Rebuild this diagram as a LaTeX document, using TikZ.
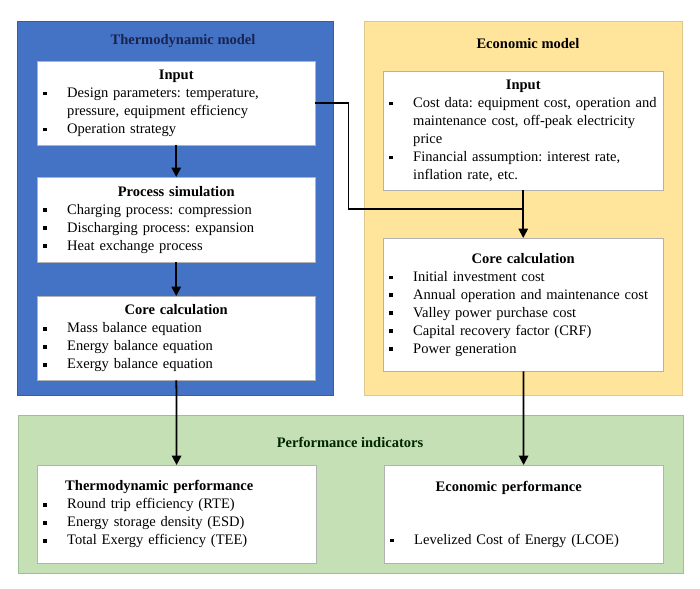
\documentclass[tikz,border=0pt]{standalone}
\usepackage{fontspec}
\setmainfont{Liberation Serif}
\usetikzlibrary{arrows.meta,positioning}
\definecolor{thermoblue}{RGB}{68,114,196}
\definecolor{thermoedge}{RGB}{52,92,170}
\definecolor{econyellow}{RGB}{255,229,155}
\definecolor{econedge}{RGB}{222,200,140}
\definecolor{perfgreen}{RGB}{198,224,181}
\definecolor{perfedge}{RGB}{160,190,150}
\definecolor{navy}{RGB}{25,35,80}
\newcommand{\px}{0.03cm}
% bullet with hanging indent
\newcommand{\bitem}{\par\hangindent=0.81cm\hangafter=1\noindent\makebox[0.81cm][l]{\hspace{0.09cm}\rule[0.3ex]{3.2pt}{3.2pt}}}
\tikzset{
  group/.style={draw, anchor=north west, inner sep=0pt},
  box/.style={draw=gray!60, fill=white, anchor=north west, align=left,
    inner xsep=3*\px, inner ysep=0pt, font=\fontsize{12.4}{15.3}\selectfont\frenchspacing},
  heading/.style={font=\fontsize{12.4}{15.3}\selectfont\bfseries},
  flow/.style={line width=1.5pt, -{Triangle[length=8pt,width=8pt]}}
}
\begin{document}
\begin{tikzpicture}[x=\px, y=-\px]
\useasboundingbox (0,0) rectangle (700,589);

% the three model areas
\node[group, draw=thermoedge, fill=thermoblue, minimum width=316*\px, minimum height=374*\px] (thermo) at (17,21) {};
\node[group, draw=econedge, fill=econyellow, minimum width=318*\px, minimum height=374*\px] (econ) at (364,21) {};
\node[group, draw=perfedge, fill=perfgreen, minimum width=665*\px, minimum height=158*\px] (perf) at (18,415) {};
\node[heading, text=navy] (thermotitle) at (183,41) {Thermodynamic model};
\node[heading] (econtitle) at (528,44) {Economic model};
\node[heading, text=black!85!green] (perftitle) at (350,442) {Performance indicators};

% thermodynamic model
\node[box, text width=272*\px, minimum height=84*\px] (tin) at (37,61) {%
  \centerline{\textbf{Input}}
  \bitem Design parameters: temperature,\newline pressure, equipment efficiency
  \bitem Operation strategy\par};
\node[box, text width=272*\px, minimum height=85*\px] (tsim) at (37,177) {%
  \centerline{\textbf{Process simulation}}
  \bitem Charging process: compression
  \bitem Discharging process: expansion
  \bitem Heat exchange process\par};
\node[box, text width=272*\px, minimum height=84*\px] (tcore) at (37,296) {%
  \centerline{\textbf{Core calculation}}
  \bitem Mass balance equation
  \bitem Energy balance equation
  \bitem Exergy balance equation\par};

% economic model
\node[box, text width=274*\px, minimum height=119*\px] (ein) at (383,71) {%
  \centerline{\textbf{Input}}
  \bitem Cost data: equipment cost, operation and\newline maintenance cost, off-peak electricity\newline price
  \bitem Financial assumption: interest rate,\newline inflation rate, etc.\par};
\node[box, text width=274*\px, minimum height=133*\px] (ecore) at (383,238) {%
  \centerline{\textbf{Core calculation}}
  \bitem Initial investment cost
  \bitem Annual operation and maintenance cost
  \bitem Valley power purchase cost
  \bitem Capital recovery factor (CRF)
  \bitem Power generation\par};

% performance indicators
\node[box, text width=273*\px, minimum height=98*\px] (tperf) at (37,465) {%
  \noindent\hspace*{0.75cm}\textbf{Thermodynamic performance}
  \bitem Round trip efficiency (RTE)
  \bitem Energy storage density (ESD)
  \bitem Total Exergy efficiency (TEE)\par};
\node[box, text width=273*\px, minimum height=98*\px] (eperf) at (384,465) {%
  \centerline{\textbf{Economic performance}\hspace*{0.9cm}}
  \vspace{15pt}
  \bitem Levelized Cost of Energy (LCOE)\par};

% connectors
\coordinate (join) at (ein.south |- 0,209);
\draw[flow] (tin) -- (tsim);
\draw[flow] (tsim) -- (tcore);
\draw[line width=1.5pt] (tin.east) -- ++(33,0) |- (join);
\draw[flow] (ein) -- (ecore);
\draw[flow] (tcore) -- (tperf);
\draw[flow] (ecore) -- (eperf);
\end{tikzpicture}
\end{document}
